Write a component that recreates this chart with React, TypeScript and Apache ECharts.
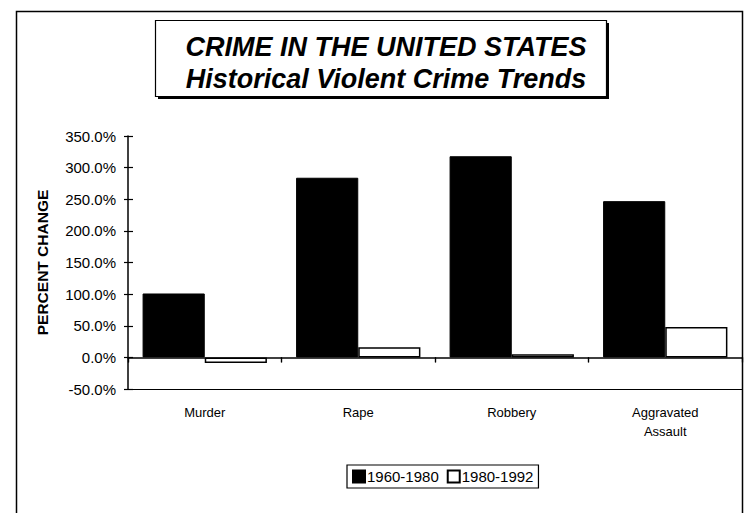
import React, { useEffect, useRef } from "react";
import * as echarts from "echarts";

const categories = ["Murder", "Rape", "Robbery", "Aggravated\nAssault"];
const series1960_1980 = [101, 284, 318, 247];
const series1980_1992 = [-9, 16, 5, 48];
const seriesNames = ["1960-1980", "1980-1992"];
const titleLines = ["CRIME IN THE UNITED STATES", "Historical Violent Crime Trends"];
const yMin = -50;
const yMax = 350;
const yInterval = 50;

const FONT = "'Liberation Sans', Arial, Helvetica, sans-serif";

export default function App() {
  const ref = useRef<HTMLDivElement>(null);
  useEffect(() => {
    if (!ref.current) return;
    const chart = echarts.init(ref.current, null, { renderer: "svg" });
    const valueAxisBase = {
      type: "value" as const,
      min: yMin,
      max: yMax,
      interval: yInterval,
      splitLine: { show: false },
    };
    chart.setOption({
      animation: false,
      backgroundColor: "#ffffff",
      textStyle: { fontFamily: FONT, color: "#000" },
      title: {
        text: titleLines.join("\n"),
        left: 381,
        textAlign: "center",
        top: 26,
        textStyle: {
          fontFamily: FONT,
          fontSize: 27,
          fontWeight: "bold",
          fontStyle: "italic",
          color: "#000",
          lineHeight: 32,
        },
      },
      graphic: [
        {
          type: "rect",
          z: -10,
          shape: { x: 16.5, y: 11.5, width: 726, height: 530 },
          style: { fill: "none", stroke: "#000", lineWidth: 1.5 },
        },
        {
          type: "rect",
          z: -5,
          shape: { x: 158, y: 23, width: 451, height: 76 },
          style: { fill: "#000" },
        },
        {
          type: "rect",
          z: -4,
          shape: { x: 155.5, y: 20.5, width: 451, height: 76 },
          style: { fill: "#fff", stroke: "#000", lineWidth: 1.2 },
        },
      ],
      legend: {
        data: seriesNames,
        left: 347,
        top: 465,
        orient: "horizontal",
        icon: "rect",
        itemWidth: 12,
        itemHeight: 12,
        itemGap: 8,
        borderColor: "#000",
        borderWidth: 1.2,
        padding: [4, 5, 4, 5],
        textStyle: { fontFamily: FONT, fontSize: 15, color: "#000", padding: [0, 0, 0, -3] },
      },
      grid: { left: 128, right: 12, top: 136, bottom: 124, containLabel: false },
      xAxis: [
        {
          type: "category",
          data: categories,
          axisLine: { show: true, onZero: true, onZeroAxisIndex: 0, lineStyle: { color: "#000", width: 1.5 } },
          axisTick: { show: true, inside: false, length: 5, lineStyle: { color: "#000", width: 1.2 } },
          axisLabel: { show: false },
          splitLine: { show: false },
        },
        {
          type: "category",
          data: categories,
          axisLine: { show: false, onZero: true, onZeroAxisIndex: 0 },
          axisTick: { show: true, inside: true, length: 5, lineStyle: { color: "#000", width: 1.2 } },
          axisLabel: { show: false },
          splitLine: { show: false },
        },
        {
          type: "category",
          data: categories,
          position: "bottom",
          axisLine: { show: true, onZero: false, lineStyle: { color: "#000", width: 1.2 } },
          axisTick: { show: false },
          axisLabel: {
            show: true,
            margin: 14,
            fontFamily: FONT,
            fontSize: 13,
            color: "#000",
            lineHeight: 19,
            interval: 0,
          },
          splitLine: { show: false },
        },
      ],
      yAxis: [
        {
          ...valueAxisBase,
          position: "left",
          name: "PERCENT CHANGE",
          nameLocation: "middle",
          nameGap: 78,
          nameRotate: 90,
          nameTextStyle: { fontFamily: FONT, fontSize: 15.5, fontWeight: "bold", color: "#000" },
          axisLine: { show: true, lineStyle: { color: "#000", width: 1.5 } },
          axisTick: { show: true, inside: false, length: 4, lineStyle: { color: "#000", width: 1.2 } },
          axisLabel: {
            show: true,
            margin: 12,
            fontFamily: FONT,
            fontSize: 15,
            color: "#000",
            formatter: (v: number) => v.toFixed(1) + "%",
          },
        },
        {
          ...valueAxisBase,
          position: "left",
          axisLine: { show: false },
          axisTick: { show: true, inside: true, length: 5, lineStyle: { color: "#000", width: 1.2 } },
          axisLabel: { show: false },
        },
      ],
      series: [
        {
          name: seriesNames[0],
          type: "bar",
          xAxisIndex: 0,
          yAxisIndex: 0,
          data: series1960_1980,
          barGap: "0%",
          barCategoryGap: "19%",
          itemStyle: { color: "#000", borderColor: "#000", borderWidth: 1 },
        },
        {
          name: seriesNames[1],
          type: "bar",
          xAxisIndex: 0,
          yAxisIndex: 0,
          data: series1980_1992,
          barGap: "0%",
          barCategoryGap: "19%",
          itemStyle: { color: "#fff", borderColor: "#000", borderWidth: 1.5 },
        },
      ],
    });
    return () => chart.dispose();
  }, []);
  return (
    <div
      ref={ref}
      style={{ position: "fixed", left: 0, top: 0, width: 754, height: 513, background: "#fff" }}
    />
  );
}
